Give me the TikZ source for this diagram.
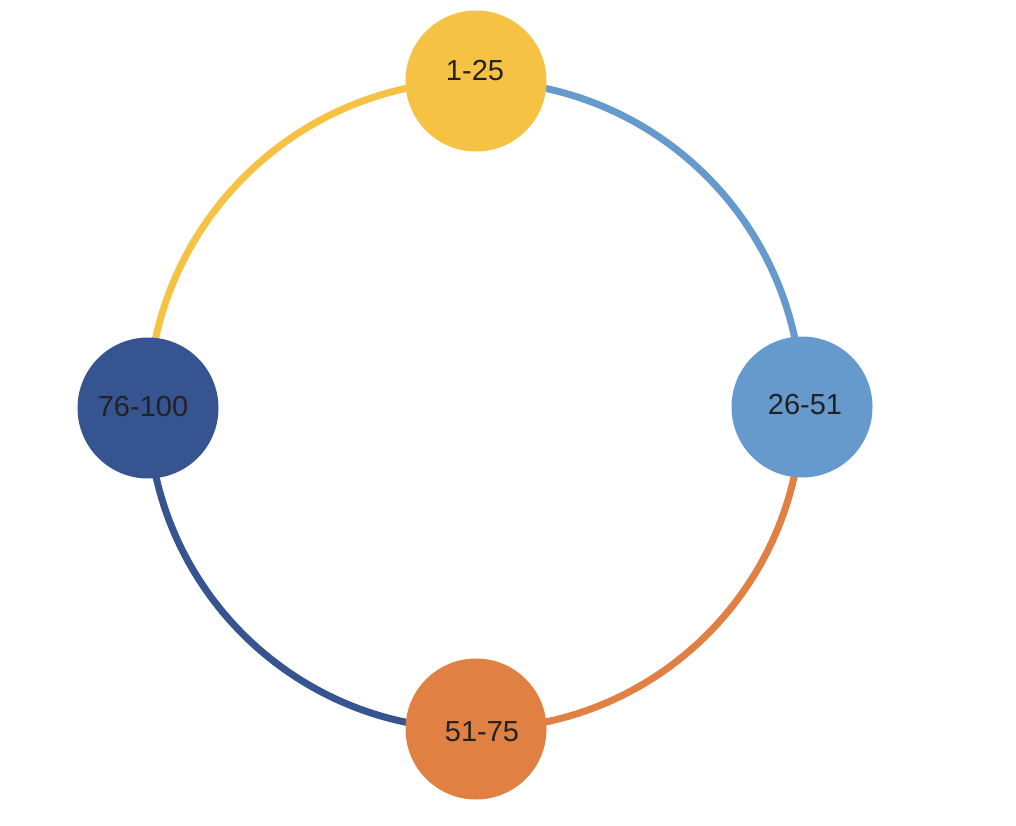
\documentclass[tikz,border=0pt]{standalone}
\usepackage{fontspec}
\setmainfont{Liberation Sans}
\usetikzlibrary{backgrounds}
\definecolor{cyel}{HTML}{F5C243}
\definecolor{cblu}{HTML}{6699CC}
\definecolor{cora}{HTML}{E08042}
\definecolor{cdbl}{HTML}{355490}
\definecolor{ctxt}{HTML}{222222}
\tikzset{
  ball/.style={circle, minimum size=141pt, inner sep=0pt},
  lbl/.style={text=ctxt, font=\fontsize{29}{35}\selectfont},
  ring/.style={line width=7pt, line cap=round}
}
\begin{document}
\begin{tikzpicture}[x=1pt,y=-1pt]
\useasboundingbox (0,0) rectangle (1016,826);
\node[ball, fill=cyel] (t) at (476,81) {};
\node[ball, fill=cblu] (r) at (802,407) {};
\node[ball, fill=cora] (b) at (476,729) {};
\node[ball, fill=cdbl] (l) at (148,408) {};
\node[lbl] (tt) at (475,71) {1-25};
\node[lbl] (rt) at (805,405) {26-51};
\node[lbl] (bt) at (482,732) {51-75};
\node[lbl] (lt) at (143,407) {76-100};
\begin{pgfonlayer}{background}
\draw[ring, cblu] (t.center) to[bend left=45] (r.center);
\draw[ring, cora] (r.center) to[bend left=45] (b.center);
\draw[ring, cdbl] (b.center) to[bend left=45] (l.center);
\draw[ring, cyel] (l.center) to[bend left=45] (t.center);
\end{pgfonlayer}
\end{tikzpicture}
\end{document}
